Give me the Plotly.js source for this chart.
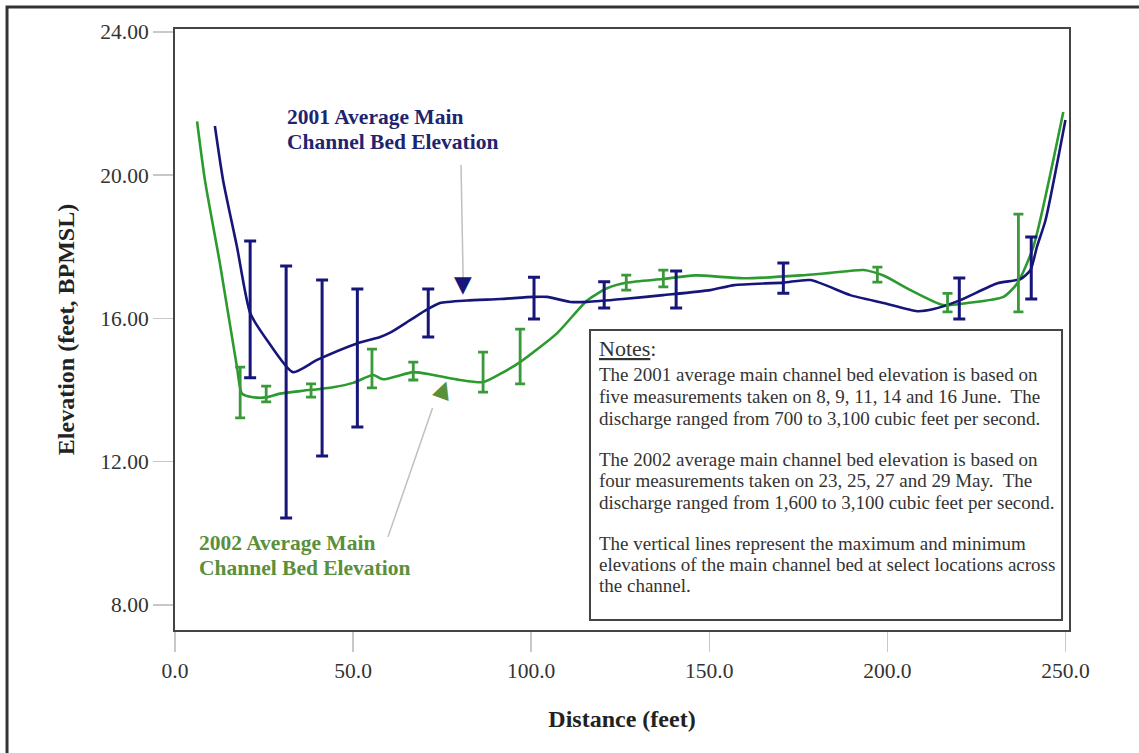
<!DOCTYPE html>
<html>
<head>
<meta charset="utf-8">
<script src="https://cdn.plot.ly/plotly-3.0.1.min.js"></script>
<style>html,body{margin:0;padding:0;background:#fff;} #chart{width:1139px;height:753px;}</style>
</head>
<body>
<div id="chart"></div>
<script>
// 2001 average main channel bed elevation (smoothed curve)
var dist2001 = [11.2, 13.5, 17.4, 21.1, 25.8, 33.1, 39.9, 51.1, 57.6, 60.4, 66.0, 70.8, 74.4, 82.0, 91.3, 100.6, 104.5, 111.0, 115.7, 125.8, 137.0, 150.3, 157.0, 170.8, 178.4, 189.6, 198.9, 208.4, 213.0, 220.5, 230.9, 237.4, 240.2, 242.0, 244.4, 250.0];
var elev2001 = [21.37, 19.86, 18.0, 16.15, 15.4, 14.5, 14.84, 15.3, 15.48, 15.6, 15.95, 16.25, 16.43, 16.5, 16.54, 16.6, 16.6, 16.46, 16.46, 16.54, 16.65, 16.79, 16.93, 17.0, 17.07, 16.65, 16.43, 16.2, 16.26, 16.51, 16.98, 17.1, 17.35, 18.0, 18.74, 21.54];

// 2002 average main channel bed elevation (smoothed curve)
var dist2002 = [6.2, 8.4, 12.6, 17.4, 18.8, 21.9, 25.8, 29.5, 35.1, 44.4, 50.0, 55.6, 58.4, 66.9, 72.5, 80.0, 86.5, 91.3, 96.9, 107.3, 115.7, 121.3, 127.0, 137.0, 146.0, 159.6, 175.6, 184.0, 193.3, 198.9, 206.5, 215.7, 222.5, 232.6, 236.5, 241.0, 249.4];
var elev2002 = [21.5, 19.86, 17.54, 14.64, 13.9, 13.8, 13.8, 13.9, 13.97, 14.08, 14.2, 14.42, 14.3, 14.5, 14.42, 14.28, 14.22, 14.45, 14.78, 15.59, 16.5, 16.84, 17.0, 17.1, 17.2, 17.12, 17.2, 17.27, 17.35, 17.2, 16.79, 16.37, 16.43, 16.6, 16.98, 18.0, 21.76];

// Max / min elevations at select locations
var bar2001Dist = [21.1, 31.2, 41.3, 51.2, 71.1, 100.8, 120.5, 140.7, 170.8, 220.2, 240.4];
var bar2001Max  = [18.16, 17.46, 17.07, 16.82, 16.82, 17.15, 17.02, 17.32, 17.55, 17.13, 18.27];
var bar2001Min  = [14.34, 10.43, 12.16, 12.97, 15.48, 15.98, 16.29, 16.29, 16.70, 15.98, 16.54];

var bar2002Dist = [18.3, 25.6, 38.2, 55.3, 66.9, 86.5, 96.9, 126.7, 137.1, 197.2, 216.9, 236.8];
var bar2002Max  = [14.64, 14.11, 14.17, 15.14, 14.78, 15.06, 15.70, 17.21, 17.35, 17.43, 16.70, 18.91];
var bar2002Min  = [13.22, 13.67, 13.80, 14.06, 14.28, 13.94, 14.17, 16.79, 16.88, 17.01, 16.18, 16.18];

var xTickVals = [0, 50, 100, 150, 200, 250];
var xTickText = ['0.0', '50.0', '100.0', '150.0', '200.0', '250.0'];
var yTickVals = [8, 12, 16, 20, 24];
var yTickText = ['8.00', '12.00', '16.00', '20.00', '24.00'];

var label2001 = ['2001 Average Main', 'Channel Bed Elevation'];
var label2002 = ['2002 Average Main', 'Channel Bed Elevation'];
var notesTitle = '<u>Notes</u>:';
var notesLines = [
  'The 2001 average main channel bed elevation is based on',
  'five measurements taken on 8, 9, 11, 14 and 16 June.  The',
  'discharge ranged from 700 to 3,100 cubic feet per second.',
  'The 2002 average main channel bed elevation is based on',
  'four measurements taken on 23, 25, 27 and 29 May.  The',
  'discharge ranged from 1,600 to 3,100 cubic feet per second.',
  'The vertical lines represent the maximum and minimum',
  'elevations of the main channel bed at select locations across',
  'the channel.'
];

var BLUE = '#16167a';
var GREEN = '#2b9a2f';
var GREEN_LBL = '#5a8f3c';
var FONT = 'Liberation Serif, Times New Roman, serif';

function mid(a, b) { return a.map(function (v, i) { return (v + b[i]) / 2; }); }
function half(a, b) { return a.map(function (v, i) { return (v - b[i]) / 2; }); }

var traces = [
  {x: dist2002, y: elev2002, type: 'scatter', mode: 'lines', name: '2002',
   line: {color: GREEN, width: 2.6, shape: 'spline', smoothing: 0.6}, hoverinfo: 'skip'},
  {x: dist2001, y: elev2001, type: 'scatter', mode: 'lines', name: '2001',
   line: {color: BLUE, width: 2.6, shape: 'spline', smoothing: 0.6}, hoverinfo: 'skip'},
  {x: bar2002Dist, y: mid(bar2002Max, bar2002Min), type: 'scatter', mode: 'markers', name: '2002 range',
   marker: {size: 1, color: 'rgba(0,0,0,0)'},
   error_y: {type: 'data', array: half(bar2002Max, bar2002Min), color: '#3a9a3a', thickness: 2.8, width: 5}},
  {x: bar2001Dist, y: mid(bar2001Max, bar2001Min), type: 'scatter', mode: 'markers', name: '2001 range',
   marker: {size: 1, color: 'rgba(0,0,0,0)'},
   error_y: {type: 'data', array: half(bar2001Max, bar2001Min), color: BLUE, thickness: 3, width: 6}}
];

// plot area in pixels: x 175..1069, y 29..630
function py(p) { return (630 - p) / 601; }
function px(p) { return (p - 175) / 894; }

var annotations = [];
function addText(txt, x, y, size, color, bold) {
  annotations.push({text: bold ? '<b>' + txt + '</b>' : txt, xref: 'paper', yref: 'paper',
    x: px(x), y: py(y), xanchor: 'left', yanchor: 'middle', align: 'left', showarrow: false,
    font: {family: FONT, size: size, color: color}});
}
addText(label2001[0], 285, 117, 21.5, '#1f2470', true);
addText(label2001[1], 285, 142, 21.5, '#1f2470', true);
addText(label2002[0], 197, 543, 21.5, GREEN_LBL, true);
addText(label2002[1], 197, 568, 21.5, GREEN_LBL, true);
addText(notesTitle, 597, 348, 22, '#333', false);
var notesY = [375, 396, 418, 459, 480, 502, 543, 564, 585];
notesLines.forEach(function (t, i) { addText(t, 597, notesY[i], 19, '#333', false); });
annotations.push({text: '▼', xref: 'x', yref: 'y', x: 80.9, y: 16.95, showarrow: false,
  font: {family: 'DejaVu Sans', size: 23, color: BLUE}});
annotations.push({text: '▲', xref: 'x', yref: 'y', x: 75.6, y: 14.05, showarrow: false, textangle: 20,
  font: {family: 'DejaVu Sans', size: 23, color: GREEN_LBL}});

var layout = {
  width: 1139, height: 753,
  margin: {l: 175, r: 70, t: 29, b: 123},
  paper_bgcolor: '#fff', plot_bgcolor: '#fff',
  showlegend: false,
  font: {family: FONT, color: '#333'},
  xaxis: {
    range: [0, 251], tickvals: xTickVals, ticktext: xTickText,
    ticks: 'outside', ticklen: 20, tickcolor: '#c8c8c8', tickwidth: 1.5,
    showgrid: false, zeroline: false,
    showline: true, linecolor: '#444', linewidth: 2, mirror: true,
    tickfont: {family: FONT, size: 21.5, color: '#333'},
    title: {text: '<b>Distance (feet)</b>', font: {family: FONT, size: 24, color: '#222'}, standoff: 28}
  },
  yaxis: {
    range: [7.3, 24.08], tickvals: yTickVals, ticktext: yTickText,
    ticks: 'outside', ticklen: 20, tickcolor: '#c8c8c8', tickwidth: 1.5,
    showgrid: false, zeroline: false,
    showline: true, linecolor: '#444', linewidth: 2, mirror: true,
    tickfont: {family: FONT, size: 21.5, color: '#333'},
    title: {text: '<b>Elevation (feet, BPMSL)</b>', font: {family: FONT, size: 24, color: '#222'}, standoff: 19}
  },
  shapes: [
    {type: 'rect', xref: 'paper', yref: 'paper', x0: -0.1879, x1: 1.2, y0: -0.4, y1: 1.0366,
     line: {color: '#333', width: 3}, fillcolor: 'rgba(0,0,0,0)', layer: 'above'},
    {type: 'rect', xref: 'paper', yref: 'paper', x0: 0.4642, x1: 0.9922, y0: 0.0166, y1: 0.4992,
     line: {color: '#444', width: 2}, fillcolor: '#fff', layer: 'below'},
    {type: 'line', xref: 'x', yref: 'y', x0: 80.3, y0: 20.28, x1: 80.9, y1: 17.1,
     line: {color: '#c0c0c0', width: 1.5}},
    {type: 'line', xref: 'x', yref: 'y', x0: 59.8, y0: 9.9, x1: 72.3, y1: 13.5,
     line: {color: '#c0c0c0', width: 1.5}}
  ],
  annotations: annotations
};

Plotly.newPlot('chart', traces, layout, {displayModeBar: false, staticPlot: true});
</script>
</body>
</html>
